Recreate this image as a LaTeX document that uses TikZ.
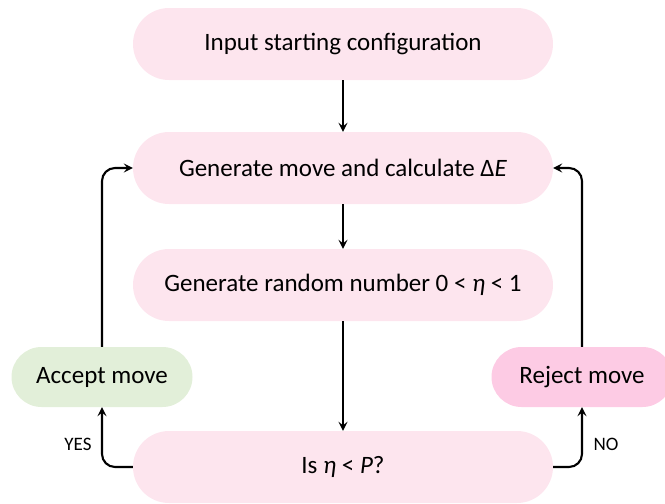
\documentclass[tikz,border=0pt]{standalone}
\usepackage{fontspec}
\setmainfont{Carlito}
\usetikzlibrary{arrows.meta}
\definecolor{boxpink}{HTML}{FDE5EE}
\definecolor{boxgreen}{HTML}{E2EFD9}
\definecolor{boxrose}{HTML}{FDCBE4}
\tikzset{
  stepbox/.style={draw=none, fill=boxpink, minimum width=420pt, minimum height=72pt,
    rounded corners=36pt, inner sep=0pt, font=\fontsize{25}{30}\selectfont},
  sidebox/.style={draw=none, minimum width=181pt, minimum height=60pt,
    rounded corners=30pt, inner sep=0pt, font=\fontsize{25}{30}\selectfont},
  flow/.style={line width=2.1pt, rounded corners=13pt,
    -{Stealth[length=9pt,width=9pt,inset=3.5pt]}},
  answer/.style={font=\fontsize{19}{22}\selectfont, inner sep=0pt}
}
\begin{document}
\begin{tikzpicture}[x=1pt,y=-1pt]
  \useasboundingbox (0,0) rectangle (665,504);
  % main chain of steps
  \node[stepbox] (start) at (343,44) {Input starting configuration};
  \node[stepbox] (gen) at (343,168) {Generate move and calculate Δ\textit{E}};
  \node[stepbox] (rand) at (343,285) {Generate random number 0 < \textit{η} < 1};
  \node[stepbox] (test) at (343,467) {Is \textit{η} < \textit{P}?};
  % outcomes
  \node[sidebox, fill=boxgreen] (acc) at (102,377) {Accept move};
  \node[sidebox, fill=boxrose] (rej) at (582,377) {Reject move};
  % anchor points for the return paths
  \coordinate (accx) at (acc.south);
  \coordinate (rejx) at (rej.south);
  % connectors
  \draw[flow] (start) -- (gen);
  \draw[flow] (gen) -- (rand);
  \draw[flow] (rand) -- (test);
  \draw[flow] (test.west) -| (accx);
  \draw[flow] (test.east) -| (rejx);
  \draw[flow] (acc.north) |- (gen.west);
  \draw[flow] (rej.north) |- (gen.east);
  % decision labels
  \node[answer] (yes) at (78,444) {YES};
  \node[answer] (no) at (606,444) {NO};
\end{tikzpicture}
\end{document}
